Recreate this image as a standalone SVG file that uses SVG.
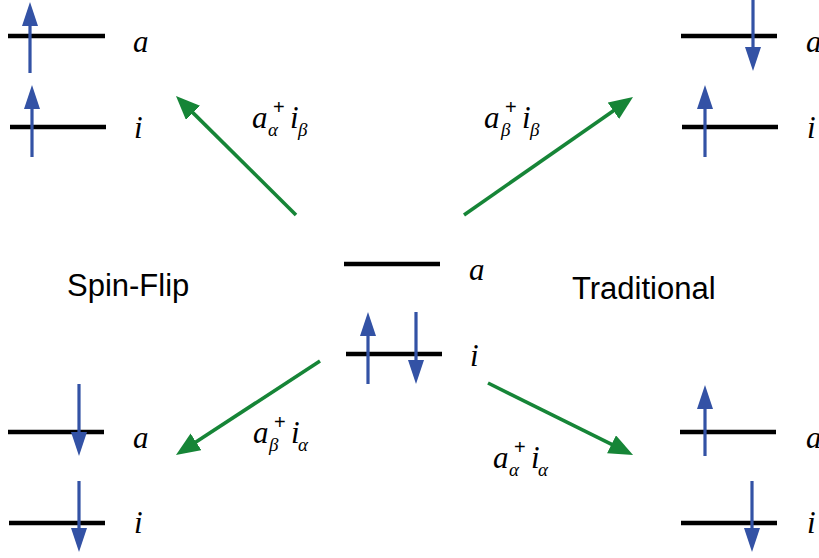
<svg xmlns="http://www.w3.org/2000/svg" width="819" height="558" viewBox="0 0 819 558">
<style>
.lvl{stroke:#000;stroke-width:4.5;fill:none}
.spin{stroke:#3352a5;stroke-width:3.2;fill:none}
.exc{stroke:#168537;stroke-width:3.6;fill:none}
.lab{font-family:"Liberation Serif",serif;font-style:italic;font-size:31px;fill:#000}
.op{font-family:"Liberation Serif",serif;font-style:italic;font-size:31px;fill:#000}
.sub{font-family:"Liberation Serif",serif;font-style:italic;font-size:19px;fill:#000}
.sup{font-family:"Liberation Sans",sans-serif;font-size:20px;fill:#000}
.title{font-family:"Liberation Sans",Arial,sans-serif;font-size:31px;fill:#000}
</style>
<defs>
<marker id="bh" markerUnits="userSpaceOnUse" markerWidth="26" markerHeight="18" refX="14" refY="8" orient="auto" viewBox="0 0 26 18">
<path d="M0,0 L24,8 L0,16 z" fill="#3352a5"/>
</marker>
<marker id="gh" markerUnits="userSpaceOnUse" markerWidth="26" markerHeight="22" refX="12" refY="10" orient="auto" viewBox="0 0 26 22">
<path d="M0,0 L24,10 L0,20 z" fill="#168537"/>
</marker>
</defs>

<g id="center">
<line class="lvl" x1="344" y1="264" x2="440" y2="264"/>
<line class="lvl" x1="346" y1="354" x2="442" y2="354"/>
<line class="spin" x1="368" y1="384" x2="368" y2="322" marker-end="url(#bh)"/>
<line class="spin" x1="416" y1="312" x2="416" y2="374" marker-end="url(#bh)"/>
<text class="lab" x="469" y="280">a</text>
<text class="lab" x="470" y="366">i</text>
</g>

<g id="top-left">
<line class="lvl" x1="8" y1="36" x2="105" y2="36"/>
<line class="lvl" x1="10" y1="127" x2="106" y2="127"/>
<line class="spin" x1="30" y1="73" x2="30" y2="12" marker-end="url(#bh)"/>
<line class="spin" x1="32" y1="157" x2="32" y2="95" marker-end="url(#bh)"/>
<text class="lab" x="133" y="52">a</text>
<text class="lab" x="134" y="138">i</text>
</g>

<g id="top-right">
<line class="lvl" x1="681" y1="36" x2="777" y2="36"/>
<line class="lvl" x1="682" y1="127" x2="778" y2="127"/>
<line class="spin" x1="753" y1="0" x2="753" y2="61" marker-end="url(#bh)"/>
<line class="spin" x1="705" y1="157" x2="705" y2="95" marker-end="url(#bh)"/>
<text class="lab" x="806" y="52">a</text>
<text class="lab" x="807" y="138">i</text>
</g>

<g id="bottom-left">
<line class="lvl" x1="8" y1="432" x2="104" y2="432"/>
<line class="lvl" x1="9" y1="523" x2="105" y2="523"/>
<line class="spin" x1="79" y1="384" x2="79" y2="446" marker-end="url(#bh)"/>
<line class="spin" x1="79" y1="481" x2="79" y2="542" marker-end="url(#bh)"/>
<text class="lab" x="133" y="448">a</text>
<text class="lab" x="134" y="533">i</text>
</g>

<g id="bottom-right">
<line class="lvl" x1="680" y1="432" x2="776" y2="432"/>
<line class="lvl" x1="681" y1="523" x2="777" y2="523"/>
<line class="spin" x1="705" y1="456" x2="705" y2="395" marker-end="url(#bh)"/>
<line class="spin" x1="752" y1="481" x2="752" y2="542" marker-end="url(#bh)"/>
<text class="lab" x="806" y="448">a</text>
<text class="lab" x="807" y="533">i</text>
</g>

<g id="connectors">
<line class="exc" x1="296" y1="215" x2="184.5" y2="104.4" marker-end="url(#gh)"/>
<line class="exc" x1="464" y1="215" x2="623.2" y2="103.9" marker-end="url(#gh)"/>
<line class="exc" x1="320" y1="361" x2="186" y2="448.4" marker-end="url(#gh)"/>
<line class="exc" x1="488" y1="383" x2="622.3" y2="449.7" marker-end="url(#gh)"/>
</g>

<g id="op-tl">
<text class="op" x="252" y="128">a</text>
<text class="sup" x="273" y="114">+</text>
<text class="sub" x="268" y="136">α</text>
<text class="op" x="290" y="128">i</text>
<text class="sub" x="298" y="136">β</text>
</g>
<g id="op-tr">
<text class="op" x="484" y="128">a</text>
<text class="sup" x="505" y="114">+</text>
<text class="sub" x="501" y="136">β</text>
<text class="op" x="522" y="128">i</text>
<text class="sub" x="530" y="136">β</text>
</g>
<g id="op-bl">
<text class="op" x="253" y="443">a</text>
<text class="sup" x="274" y="429">+</text>
<text class="sub" x="269" y="451">β</text>
<text class="op" x="291" y="443">i</text>
<text class="sub" x="298" y="451">α</text>
</g>
<g id="op-br">
<text class="op" x="493" y="468">a</text>
<text class="sup" x="514" y="454">+</text>
<text class="sub" x="509" y="476">α</text>
<text class="op" x="531" y="468">i</text>
<text class="sub" x="538" y="476">α</text>
</g>

<text class="title" x="67" y="296">Spin-Flip</text>
<text class="title" x="572" y="299">Traditional</text>
</svg>
